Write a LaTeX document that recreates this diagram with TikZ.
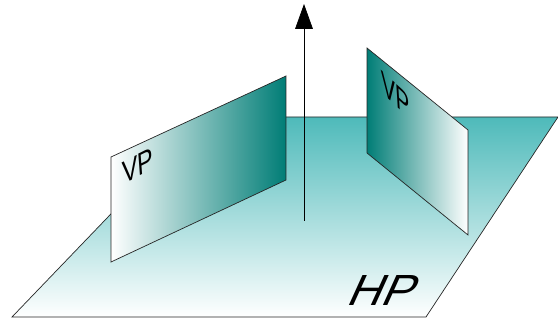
\documentclass[tikz,border=0pt]{standalone}
\usepackage{fontspec}
\setmainfont{Liberation Sans}
\usetikzlibrary{arrows.meta}
\definecolor{hpteal}{RGB}{78, 186, 186}
\definecolor{vpteal}{RGB}{0, 125, 118}
\tikzset{
    plane/.style={draw=black!85, line width=0.5pt},
    planelabel/.style={inner sep=0pt, transform shape, font=\fontsize{23}{23}\selectfont}
}

\begin{document}
\begin{tikzpicture}[x=0.025cm, y=-0.025cm]
    \useasboundingbox (0, 0) rectangle (558, 320);

    % HP
    \draw[plane, top color=hpteal, bottom color=white] (12, 317) -- (204, 117) -- (558, 117) -- (426, 317) -- cycle;
    \node[inner sep=0pt, transform shape, xscale=1.08, xslant=0.42, font=\fontsize{31}{31}\selectfont] (hp) at (385, 291) {HP};

    % axis
    \coordinate (axisbottom) at (304, 221);
    \coordinate (axistop) at (304, 4);
    \draw[-{Triangle[length=0.62cm, width=0.44cm]}, line width=0.5pt] (axisbottom) -- (axistop);

    % VP
    \draw[plane, left color=white, right color=vpteal] (111, 157) -- (286, 76) -- (286, 180) -- (111, 262) -- cycle;
    \node[planelabel, xscale=0.72, yslant=0.36, xslant=-0.1] (vpleft) at (138, 166) {VP};
    \draw[plane, left color=vpteal, right color=white] (367, 48) -- (468, 130) -- (468, 235) -- (367, 153) -- cycle;
    \node[planelabel, xscale=0.66, yslant=-0.6, xslant=-0.1] (vpright) at (396, 95) {VP};
\end{tikzpicture}
\end{document}
